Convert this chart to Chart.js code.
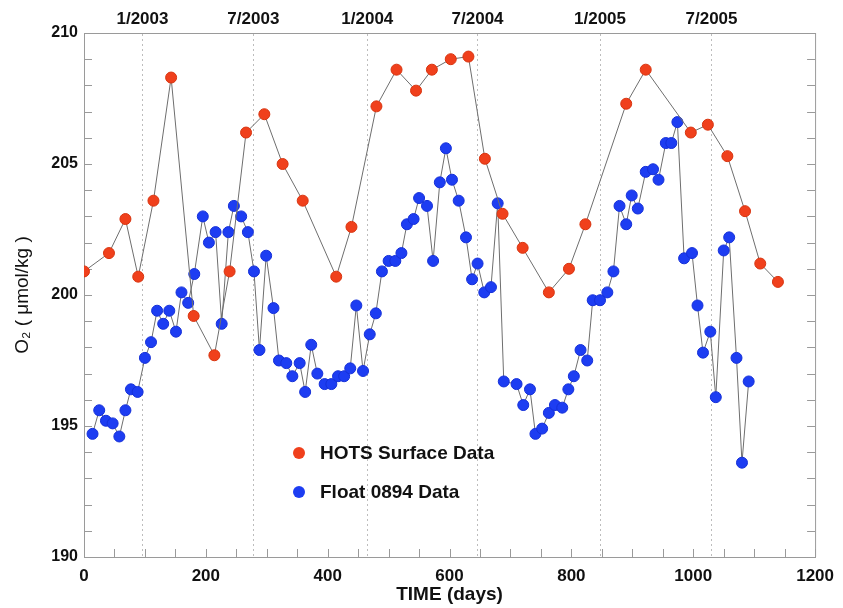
<!DOCTYPE html>
<html>
<head>
<meta charset="utf-8">
<script src="https://cdn.jsdelivr.net/npm/chart.js@4.4.1/dist/chart.umd.min.js"></script>
<style>
  html, body { margin: 0; padding: 0; background: #fff; }
  #wrap { width: 843px; height: 608px; }
</style>
</head>
<body>
<div id="wrap"><canvas id="o2Chart" width="843" height="608"></canvas></div>
<script>
// HOTS surface O2 (red)
const hotsDays = [0, 41, 68, 89, 114, 143, 180, 214, 239, 266, 296, 326, 359, 414, 439, 480, 513, 545, 571, 602, 631, 658, 687, 720, 763, 796, 823, 890, 922, 996, 1024, 1056, 1085, 1110, 1139];
const hotsO2 = [200.9, 201.6, 202.9, 200.7, 203.6, 208.3, 199.2, 197.7, 200.9, 206.2, 206.9, 205.0, 203.6, 200.7, 202.6, 207.2, 208.6, 207.8, 208.6, 209.0, 209.1, 205.2, 203.1, 201.8, 200.1, 201.0, 202.7, 207.3, 208.6, 206.2, 206.5, 205.3, 203.2, 201.2, 200.5];

// Float 0894 O2 (blue)
const floatDays = [14, 25, 36, 47, 58, 68, 77, 88, 100, 110, 120, 130, 140, 151, 160, 171, 181, 195, 205, 216, 226, 237, 246, 258, 269, 279, 288, 299, 311, 320, 332, 342, 354, 363, 373, 383, 395, 406, 417, 427, 437, 447, 458, 469, 479, 489, 500, 511, 521, 530, 541, 550, 563, 573, 584, 594, 604, 615, 627, 637, 646, 657, 668, 679, 689, 710, 721, 732, 741, 752, 763, 773, 785, 795, 804, 815, 826, 835, 847, 859, 869, 879, 890, 899, 909, 922, 934, 943, 955, 964, 974, 985, 998, 1007, 1016, 1028, 1037, 1050, 1059, 1071, 1080, 1091];
const floatO2 = [194.7, 195.6, 195.2, 195.1, 194.6, 195.6, 196.4, 196.3, 197.6, 198.2, 199.4, 198.9, 199.4, 198.6, 200.1, 199.7, 200.8, 203.0, 202.0, 202.4, 198.9, 202.4, 203.4, 203.0, 202.4, 200.9, 197.9, 201.5, 199.5, 197.5, 197.4, 196.9, 197.4, 196.3, 198.1, 197.0, 196.6, 196.6, 196.9, 196.9, 197.2, 199.6, 197.1, 198.5, 199.3, 200.9, 201.3, 201.3, 201.6, 202.7, 202.9, 203.7, 203.4, 201.3, 204.3, 205.6, 204.4, 203.6, 202.2, 200.6, 201.2, 200.1, 200.3, 203.5, 196.7, 196.6, 195.8, 196.4, 194.7, 194.9, 195.5, 195.8, 195.7, 196.4, 196.9, 197.9, 197.5, 199.8, 199.8, 200.1, 200.9, 203.4, 202.7, 203.8, 203.3, 204.7, 204.8, 204.4, 205.8, 205.8, 206.6, 201.4, 201.6, 199.6, 197.8, 198.6, 196.1, 201.7, 202.2, 197.6, 193.6, 196.7];

// axis ticks
const xTicks = [0, 200, 400, 600, 800, 1000, 1200];
const yTicks = [190, 195, 200, 205, 210];
const dateDays = [96, 278, 465, 646, 847, 1030];
const dateLabels = ['1/2003', '7/2003', '1/2004', '7/2004', '1/2005', '7/2005'];

const RED = '#f0401c';
const BLUE = '#1d3df2';
const FRAME = '#9a9a9a';
const FONT = "'Liberation Sans', Arial, Helvetica, sans-serif";

const toPoints = (xs, ys) => xs.map((d, i) => ({ x: d, y: ys[i] }));

// inward tick marks + right-hand frame line
const frameTicks = {
    id: 'frameTicks',
    beforeDatasetsDraw(chart) {
        const { ctx, chartArea: a, scales: { x, y } } = chart;
        ctx.save();
        ctx.strokeStyle = FRAME;
        ctx.lineWidth = 1;
        ctx.beginPath();
        ctx.moveTo(a.right + 0.5, a.top);
        ctx.lineTo(a.right + 0.5, a.bottom);
        for (let v = x.min; v <= x.max; v += 50) {
            const px = Math.round(x.getPixelForValue(v)) + 0.5;
            ctx.moveTo(px, a.bottom);
            ctx.lineTo(px, a.bottom - 8);
        }
        for (let v = y.min; v <= y.max; v += 1) {
            const py = Math.round(y.getPixelForValue(v)) + 0.5;
            ctx.moveTo(a.left, py);
            ctx.lineTo(a.left + 8, py);
            ctx.moveTo(a.right, py);
            ctx.lineTo(a.right - 8, py);
        }
        ctx.stroke();
        ctx.restore();
    }
};

// legend drawn inside the plot
const insideLegend = {
    id: 'insideLegend',
    afterDatasetsDraw(chart) {
        const { ctx, chartArea: a } = chart;
        const items = chart.data.datasets.map(ds => ({ label: ds.label, color: ds.backgroundColor }));
        ctx.save();
        ctx.font = `bold 19px ${FONT}`;
        ctx.textBaseline = 'middle';
        items.forEach((it, i) => {
            const cx = a.left + 215;
            const cy = a.top + 420 + i * 39;
            ctx.fillStyle = it.color;
            ctx.beginPath();
            ctx.arc(cx, cy, 6, 0, Math.PI * 2);
            ctx.fill();
            ctx.fillStyle = '#111';
            ctx.fillText(it.label, cx + 21, cy + 1);
        });
        ctx.restore();
    }
};

new Chart(document.getElementById('o2Chart'), {
    type: 'scatter',
    data: {
        datasets: [
            {
                label: 'HOTS Surface Data',
                data: toPoints(hotsDays, hotsO2),
                showLine: true,
                borderColor: '#6e6e6e',
                borderWidth: 1,
                backgroundColor: RED,
                pointBackgroundColor: RED,
                pointBorderColor: '#d8340f',
                pointBorderWidth: 1,
                pointRadius: 5.5,
                xAxisID: 'x',
                yAxisID: 'y'
            },
            {
                label: 'Float 0894 Data',
                data: toPoints(floatDays, floatO2),
                showLine: true,
                borderColor: '#6e6e6e',
                borderWidth: 1,
                backgroundColor: BLUE,
                pointBackgroundColor: BLUE,
                pointBorderColor: '#1530d8',
                pointBorderWidth: 1,
                pointRadius: 5.5,
                xAxisID: 'x',
                yAxisID: 'y'
            }
        ]
    },
    options: {
        responsive: false,
        animation: false,
        devicePixelRatio: 1,
        layout: { padding: { left: 0, right: 23, top: 0, bottom: 0 } },
        plugins: { legend: { display: false }, tooltip: { enabled: false } },
        scales: {
            x: {
                type: 'linear',
                position: 'bottom',
                min: 0,
                max: 1200,
                afterBuildTicks: ax => { ax.ticks = xTicks.map(v => ({ value: v })); },
                afterFit: s => { s.height = 51; },
                grid: { display: false, drawTicks: false },
                border: { display: true, color: FRAME },
                ticks: { color: '#111', font: { family: FONT, size: 17, weight: 'bold' }, padding: 9, maxRotation: 0, autoSkip: false, callback: v => String(v) },
                title: { display: true, text: 'TIME (days)', color: '#111', font: { family: FONT, size: 19, weight: 'bold' }, padding: { top: 0, bottom: 2 } }
            },
            x2: {
                type: 'linear',
                position: 'top',
                min: 0,
                max: 1200,
                afterBuildTicks: ax => { ax.ticks = dateDays.map(v => ({ value: v })); },
                afterFit: s => { s.height = 33; },
                grid: { display: true, drawTicks: false, color: '#bdbdbd', lineWidth: 1 },
                border: { display: true, color: FRAME, dash: [2, 3] },
                ticks: {
                    color: '#111',
                    font: { family: FONT, size: 17, weight: 'bold' },
                    padding: 3,
                    maxRotation: 0,
                    autoSkip: false,
                    callback: (v, i) => dateLabels[i]
                }
            },
            y: {
                type: 'linear',
                position: 'left',
                min: 190,
                max: 210,
                afterBuildTicks: ax => { ax.ticks = yTicks.map(v => ({ value: v })); },
                afterFit: s => { s.width = 84; },
                grid: { display: false, drawTicks: false },
                border: { display: true, color: FRAME },
                ticks: { color: '#111', font: { family: FONT, size: 16, weight: 'bold' }, padding: 6 },
                title: { display: true, text: 'O\u2082 ( \u03bcmol/kg )', color: '#111', font: { family: FONT, size: 19 }, padding: { top: 11, bottom: 0 } }
            }
        }
    },
    plugins: [frameTicks, insideLegend]
});
</script>
</body>
</html>
